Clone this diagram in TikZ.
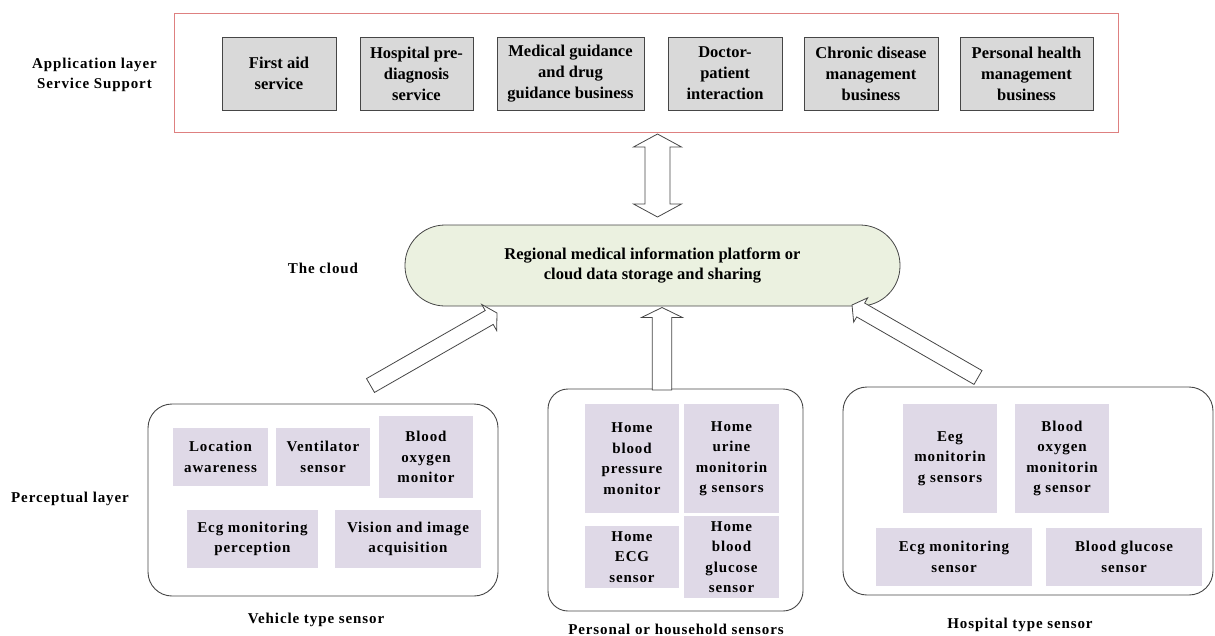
\documentclass[tikz,border=0pt]{standalone}
\usepackage{fontspec}
\setmainfont{Liberation Serif}
\newfontfamily\spacedfont[LetterSpace=6]{Liberation Serif}
\usetikzlibrary{calc}

\definecolor{framered}{RGB}{222,128,128}
\definecolor{boxgray}{RGB}{217,217,217}
\definecolor{cloudgreen}{RGB}{235,241,224}
\definecolor{lavender}{RGB}{223,217,231}
\definecolor{edgegray}{RGB}{70,70,70}

% hollow single block arrow: tail, tip, shaft half width, head half width, head length
\newcommand\blockarrow[5]{%
  \coordinate (ba-base) at ($(#2)!#5!(#1)$);
  \draw[hollowarrow] ($(#1)!#3!90:(#2)$) -- ($(ba-base)!#3!90:(#2)$)
    -- ($(ba-base)!#4!90:(#2)$) -- (#2) -- ($(ba-base)!#4!-90:(#2)$)
    -- ($(ba-base)!#3!-90:(#2)$) -- ($(#1)!#3!-90:(#2)$) -- cycle;
}
% hollow double-headed block arrow between two points
\newcommand\doubleblockarrow[5]{%
  \coordinate (da-b1) at ($(#1)!#5!(#2)$);
  \coordinate (da-b2) at ($(#2)!#5!(#1)$);
  \draw[hollowarrow] (#1) -- ($(da-b1)!#4!90:(#2)$) -- ($(da-b1)!#3!90:(#2)$)
    -- ($(da-b2)!#3!90:(#2)$) -- ($(da-b2)!#4!90:(#2)$) -- (#2)
    -- ($(da-b2)!#4!-90:(#2)$) -- ($(da-b2)!#3!-90:(#2)$)
    -- ($(da-b1)!#3!-90:(#2)$) -- ($(da-b1)!#4!-90:(#2)$) -- cycle;
}

\tikzset{
  servicebox/.style={draw=edgegray, fill=boxgray, line width=0.8pt, inner sep=0pt,
    outer sep=0pt, align=center, minimum height=73pt,
    font=\bfseries\fontsize{16.5}{21}\selectfont},
  sensorbox/.style={fill=lavender, inner sep=0pt, outer sep=0pt, align=center,
    font=\spacedfont\bfseries\fontsize{15}{20.5}\selectfont},
  groupbox/.style={draw=edgegray, line width=0.9pt, rounded corners=24pt,
    inner sep=0pt, outer sep=0pt},
  layerlabel/.style={align=center, font=\spacedfont\bfseries\fontsize{15}{20}\selectfont},
  hollowarrow/.style={draw=edgegray, fill=white, line width=0.8pt, line join=miter},
}

\begin{document}
\begin{tikzpicture}[x=1pt, y=-1pt]
\useasboundingbox (0,0) rectangle (1215,635);

% application layer
\node[draw=framered, line width=0.9pt, minimum width=944pt, minimum height=119pt,
  inner sep=0pt] (applayer) at (646,72.5) {};
\node[layerlabel] (applabel) at (94.5,75) {Application layer\\Service Support};
\node[servicebox, minimum width=114pt] (firstaid) at (279,73.5) {First aid\\service};
\node[servicebox, minimum width=113pt] (prediag) at (416.5,73.5) {Hospital pre-\\diagnosis\\service};
\node[servicebox, minimum width=147pt] (guidance) at (570.5,73.5) {Medical guidance\\and drug\\guidance business};
\node[servicebox, minimum width=114pt] (interact) at (725,73.5) {Doctor-\\patient\\interaction};
\node[servicebox, minimum width=134pt] (chronic) at (871,73.5) {Chronic disease\\management\\business};
\node[servicebox, minimum width=133pt] (personal) at (1026.5,73.5) {Personal health\\management\\business};

% cloud platform
\node[layerlabel] (cloudlabel) at (323,268) {The cloud};
\node[draw=edgegray, fill=cloudgreen, line width=0.8pt, rounded corners=40pt,
  minimum width=495pt, minimum height=81pt, inner sep=0pt, align=center,
  font=\bfseries\fontsize{16.5}{20}\selectfont] (cloud) at (652.5,265.5)
  {Regional medical information platform or\\cloud data storage and sharing};

% perceptual layer
\node[layerlabel] (perclabel) at (70,499) {Perceptual layer};

% vehicle type sensors
\node[groupbox, minimum width=350pt, minimum height=192pt] (vehicle) at (323,500) {};
\node[sensorbox, minimum width=95pt, minimum height=58pt] (location) at (220.5,457) {Location\\awareness};
\node[sensorbox, minimum width=94pt, minimum height=58pt] (ventilator) at (323,457) {Ventilator\\sensor};
\node[sensorbox, minimum width=94pt, minimum height=82pt] (oxymon) at (426,457) {Blood\\oxygen\\monitor};
\node[sensorbox, minimum width=131pt, minimum height=58pt] (ecgperc) at (252.5,539) {Ecg monitoring\\perception};
\node[sensorbox, minimum width=146pt, minimum height=58pt] (vision) at (408,539) {Vision and image\\acquisition};
\node[layerlabel] (vehiclelabel) at (316,620) {Vehicle type sensor};

% personal or household sensors
\node[groupbox, rounded corners=20pt, minimum width=255pt, minimum height=222pt] (home) at (675.5,500) {};
\node[sensorbox, minimum width=94pt, minimum height=109pt] (homebp) at (632,458.5) {Home\\blood\\pressure\\monitor};
\node[sensorbox, minimum width=95pt, minimum height=109pt] (homeurine) at (731.5,458.5) {Home\\urine\\monitorin\\g sensors};
\node[sensorbox, minimum width=94pt, minimum height=62pt] (homeecg) at (632,557) {Home\\ECG\\sensor};
\node[sensorbox, minimum width=95pt, minimum height=82pt] (homeglucose) at (731.5,557) {Home\\blood\\glucose\\sensor};
\node[layerlabel] (homelabel) at (676,629) {Personal or household sensors};

% hospital type sensors
\node[groupbox, minimum width=370pt, minimum height=208pt] (hospital) at (1028,491) {};
\node[sensorbox, minimum width=94pt, minimum height=109pt] (eeg) at (950,458.5) {Eeg\\monitorin\\g sensors};
\node[sensorbox, minimum width=94pt, minimum height=109pt] (oxysensor) at (1062,458.5) {Blood\\oxygen\\monitorin\\g sensor};
\node[sensorbox, minimum width=156pt, minimum height=58pt] (ecgsensor) at (954,557) {Ecg monitoring\\sensor};
\node[sensorbox, minimum width=156pt, minimum height=58pt] (glucose) at (1124,557) {Blood glucose\\sensor};
\node[layerlabel] (hospitallabel) at (1020,625) {Hospital type sensor};

% arrow end points
\coordinate (appout) at (657.5,134);
\coordinate (cloudin) at (657.5,217);
\coordinate (vehicletail) at (370.5,385.5);
\coordinate (vehicletip) at (497,313);
\coordinate (hometail) at ($(home.north)+(-13.5,1)$);
\coordinate (hometip) at (662,307.5);
\coordinate (hospitaltail) at (978,377.5);
\coordinate (hospitaltip) at (852,305);

% connectors
\doubleblockarrow{appout}{cloudin}{12.5pt}{24pt}{13pt}
\blockarrow{vehicletail}{vehicletip}{8pt}{15pt}{9pt}
\blockarrow{hometail}{hometip}{9.7pt}{20.5pt}{10pt}
\blockarrow{hospitaltail}{hospitaltip}{8pt}{14pt}{10pt}
\end{tikzpicture}
\end{document}
